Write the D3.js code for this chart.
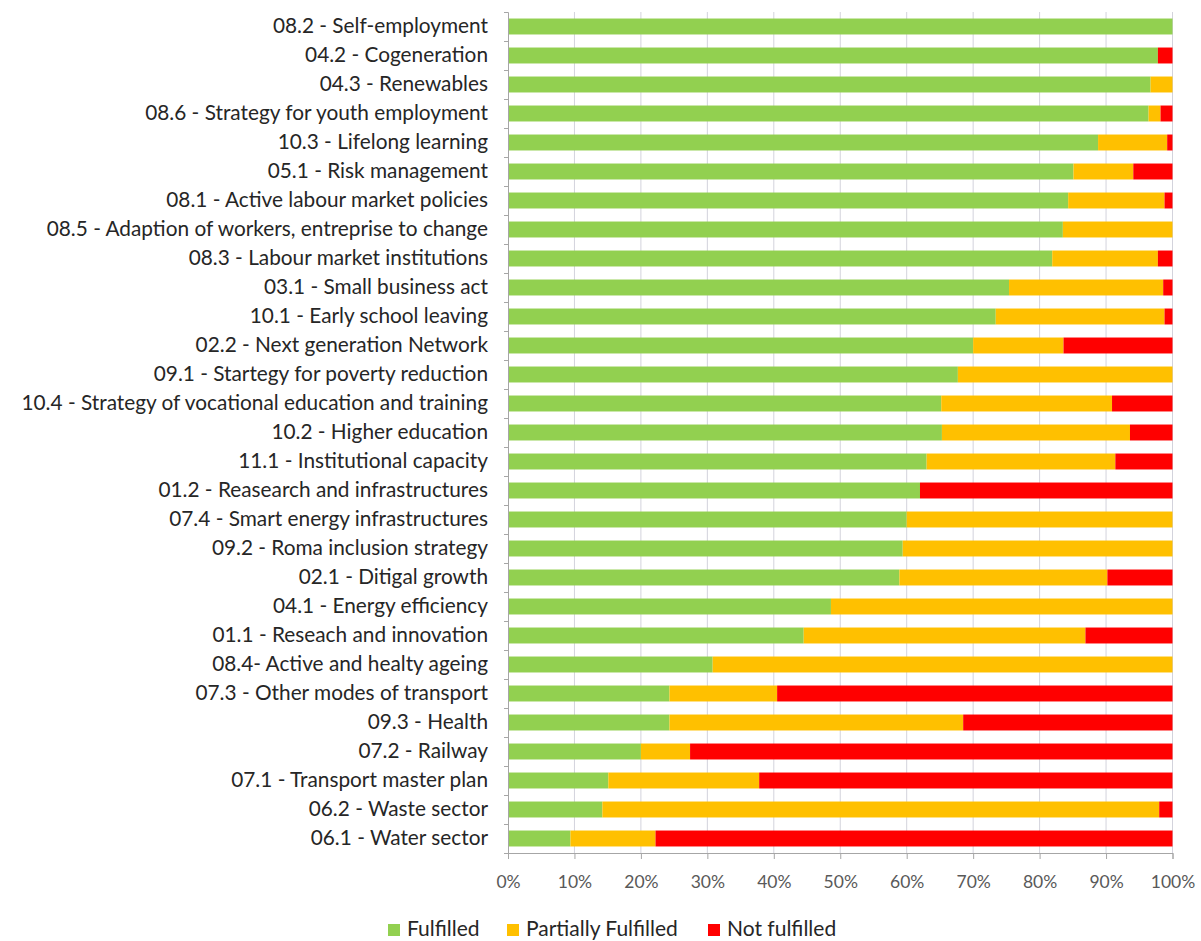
<!DOCTYPE html>
<html>
<head>
<meta charset="utf-8">
<script src="https://cdn.jsdelivr.net/npm/d3@7"></script>
<style>
  body { margin: 0; background: #fff; }
  text { font-family: Lato, "Open Sans", sans-serif; }
</style>
</head>
<body>
<svg id="chart" width="1201" height="941"></svg>
<script>
// Categories, top to bottom
const categories = [
  '08.2 - Self-employment',
  '04.2 - Cogeneration',
  '04.3 - Renewables',
  '08.6 - Strategy for youth employment',
  '10.3 - Lifelong learning',
  '05.1 - Risk management',
  '08.1 - Active labour market policies',
  '08.5 - Adaption of workers, entreprise to change',
  '08.3 - Labour market institutions',
  '03.1 - Small business act',
  '10.1 - Early school leaving',
  '02.2 - Next generation Network',
  '09.1 - Startegy for poverty reduction',
  '10.4 - Strategy of vocational education and training',
  '10.2 - Higher education',
  '11.1 - Institutional capacity',
  '01.2 - Reasearch and infrastructures',
  '07.4 - Smart energy infrastructures',
  '09.2 - Roma inclusion strategy',
  '02.1 - Ditigal growth',
  '04.1 - Energy efficiency',
  '01.1 - Reseach and innovation',
  '08.4- Active and healty ageing',
  '07.3 - Other modes of transport',
  '09.3 - Health',
  '07.2 - Railway',
  '07.1 - Transport master plan',
  '06.2 - Waste sector',
  '06.1 - Water sector'
];

// Shares in percent
const fulfilled = [100, 97.8, 96.7, 96.4, 88.8, 85.1, 84.3, 83.5, 81.9, 75.4,
  73.4, 70.0, 67.7, 65.2, 65.3, 63.0, 62.0, 60.0, 59.4, 58.9,
  48.6, 44.5, 30.8, 24.3, 24.3, 20.0, 15.1, 14.2, 9.4];
const partiallyFulfilled = [0, 0, 3.3, 1.8, 10.4, 9.0, 14.5, 16.5, 15.9, 23.2,
  25.4, 13.6, 32.3, 25.7, 28.3, 28.4, 0, 40.0, 40.6, 31.3,
  51.4, 42.4, 69.2, 16.2, 44.2, 7.4, 22.7, 83.8, 12.8];
const notFulfilled = [0, 2.2, 0, 1.8, 0.8, 5.9, 1.2, 0, 2.2, 1.4,
  1.2, 16.4, 0, 9.1, 6.4, 8.6, 38.0, 0, 0, 9.8,
  0, 13.1, 0, 59.5, 31.5, 72.6, 62.2, 2.0, 77.8];

const seriesNames = ['Fulfilled', 'Partially Fulfilled', 'Not fulfilled'];
const xTicks = [0, 10, 20, 30, 40, 50, 60, 70, 80, 90, 100];

const colors = ['#92D050', '#FFC000', '#FF0000'];

const svg = d3.select('#chart');
const width = +svg.attr('width');
const height = +svg.attr('height');

const margin = { top: 12, right: 28.5, bottom: 88, left: 508 };
const innerWidth = width - margin.left - margin.right;
const innerHeight = height - margin.top - margin.bottom;

// rows table for the stack
const rows = categories.map((c, i) => ({
  category: c,
  'Fulfilled': fulfilled[i],
  'Partially Fulfilled': partiallyFulfilled[i],
  'Not fulfilled': notFulfilled[i]
}));

const stacked = d3.stack().keys(seriesNames)(rows);

const xScale = d3.scaleLinear().domain([0, 100]).range([0, innerWidth]);
const yScale = d3.scaleBand()
  .domain(categories)
  .range([0, innerHeight])
  .paddingInner(0.45)
  .paddingOuter(0.225);

const g = svg.append('g')
  .attr('transform', `translate(${margin.left},${margin.top})`);

// vertical gridlines
g.append('g')
  .selectAll('line')
  .data(xTicks.slice(1))
  .enter().append('line')
    .attr('x1', d => xScale(d))
    .attr('x2', d => xScale(d))
    .attr('y1', 0)
    .attr('y2', innerHeight)
    .attr('stroke', '#d3d3dc')
    .attr('stroke-width', 1);

// bars
g.selectAll('.series')
  .data(stacked)
  .enter().append('g')
    .attr('class', 'series')
    .attr('fill', (d, i) => colors[i])
  .selectAll('rect')
  .data(d => d)
  .enter().append('rect')
    .attr('x', d => xScale(d[0]))
    .attr('width', d => xScale(d[1]) - xScale(d[0]))
    .attr('y', d => yScale(d.data.category))
    .attr('height', yScale.bandwidth());

// x axis
const xAxisG = g.append('g')
  .attr('transform', `translate(0,${innerHeight})`)
  .call(d3.axisBottom(xScale)
    .tickValues(xTicks)
    .tickFormat(d => d + '%')
    .tickSize(6)
    .tickPadding(17));
xAxisG.selectAll('.domain, .tick line').attr('stroke', '#a6a6a6');
xAxisG.selectAll('text')
  .attr('fill', '#595959')
  .style('font-size', '17.5px');

// y axis: ticks on band boundaries
const yEdge = d3.scaleLinear().domain([0, categories.length]).range([0, innerHeight]);
const yTickG = g.append('g')
  .call(d3.axisLeft(yEdge)
    .tickValues(d3.range(categories.length + 1))
    .tickFormat('')
    .tickSize(4));
yTickG.selectAll('.domain, .tick line').attr('stroke', '#a6a6a6');

// y axis labels
const yAxisG = g.append('g')
  .call(d3.axisLeft(yScale).tickSize(0).tickPadding(20));
yAxisG.select('.domain').remove();
yAxisG.selectAll('text')
  .attr('fill', '#262626')
  .style('font-size', '20.8px');

// legend
const legendX = [388, 507, 708];
const legend = svg.append('g')
  .attr('transform', `translate(0,${height - 5})`);
const items = legend.selectAll('g')
  .data(seriesNames)
  .enter().append('g')
    .attr('transform', (d, i) => `translate(${legendX[i]},0)`);
items.append('rect')
  .attr('x', 0)
  .attr('y', -12)
  .attr('width', 12)
  .attr('height', 12)
  .attr('fill', (d, i) => colors[i]);
items.append('text')
  .attr('x', 19)
  .attr('y', 0)
  .attr('fill', '#262626')
  .style('font-size', '21px')
  .text(d => d);
</script>
</body>
</html>
